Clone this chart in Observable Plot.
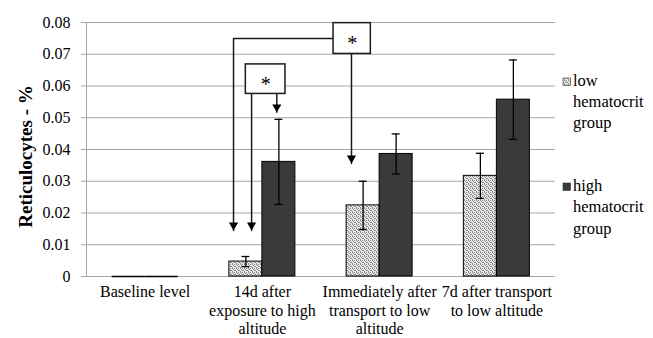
<!DOCTYPE html>
<html><head><meta charset="utf-8">
<script src="https://cdn.jsdelivr.net/npm/d3@7"></script>
<script src="https://cdn.jsdelivr.net/npm/@observablehq/plot@0.6"></script>
<style>
body{margin:0;background:#fff}
#chart{position:relative;width:653px;height:338px}
#chart svg, #chart svg text{font-family:"Liberation Serif","Times New Roman",serif !important}
</style>
</head><body><div id="chart"></div>
<script>
// ---- data ----
const categories = [
  "Baseline level",
  "14d after\nexposure to high\naltitude",
  "Immediately after\ntransport to low\naltitude",
  "7d after transport\nto low altitude"
];
const seriesNames = ["low\nhematocrit\ngroup", "high\nhematocrit\ngroup"];
const lowValues  = [0, 0.0047, 0.0224, 0.0317];
const lowErrors  = [0, 0.0016, 0.0076, 0.0071];
const highValues = [0, 0.0361, 0.0386, 0.0557];
const highErrors = [0, 0.0134, 0.0063, 0.0125];
const yTicks = [0, 0.01, 0.02, 0.03, 0.04, 0.05, 0.06, 0.07, 0.08];
const yTitle = "Reticulocytes - %";
// significance annotations (data units: x = category index, y = value)
const sigBoxes = [
  {x1: 1.607, x2: 1.925, y1: 0.0701, y2: 0.0798, label: "*"},
  {x1: 0.859, x2: 1.197, y1: 0.0575, y2: 0.0668, label: "*"}
];
const connectors = [
  {id: 0, x: 1.607, y: 0.0750}, {id: 0, x: 0.754, y: 0.0750}, {id: 0, x: 0.754, y: 0.0145},
  {id: 1, x: 1.760, y: 0.0701}, {id: 1, x: 1.760, y: 0.0356},
  {id: 2, x: 0.908, y: 0.0575}, {id: 2, x: 0.908, y: 0.0145},
  {id: 3, x: 1.123, y: 0.0575}, {id: 3, x: 1.123, y: 0.0517}
];
const arrowTips = [
  {x: 0.754, y: 0.0145}, {x: 1.760, y: 0.0356}, {x: 0.908, y: 0.0145}, {x: 1.123, y: 0.0517}
];

// ---- build ----
const FONT = "'Liberation Serif', 'Times New Roman', serif";
const BW = 0.2815;
const rows = [];
categories.forEach((c, i) => {
  rows.push({i, s: 0, v: lowValues[i], e: lowErrors[i], x1: i - BW, x2: i, c: i - BW / 2});
  rows.push({i, s: 1, v: highValues[i], e: highErrors[i], x1: i, x2: i + BW, c: i + BW / 2});
});
const low = rows.filter(d => d.s === 0);
const high = rows.filter(d => d.s === 1);
const errs = rows.filter(d => d.e > 0);
const zeroBars = rows.filter(d => d.v === 0);
const GRID = "#a6a6a6";
const DARK = "#3a3a3a";
const CAP = 0.034;
const fmt = d => d === 0 ? "0" : d.toFixed(2);

const svgEl = Plot.plot({
  width: 653, height: 338,
  marginLeft: 86, marginRight: 98, marginTop: 22, marginBottom: 62,
  style: {fontFamily: FONT, fontSize: "16px", color: "black", background: "white", overflow: "visible"},
  x: {domain: [-0.5, 3.5], axis: null},
  y: {domain: [0, 0.08], axis: null},
  marks: [
    Plot.gridY(yTicks, {stroke: GRID, strokeOpacity: 1, strokeWidth: 1}),
    Plot.ruleX([-0.5], {stroke: GRID, strokeWidth: 1}),
    Plot.axisY(yTicks, {tickFormat: fmt, tickSize: 5, tickPadding: 11, stroke: GRID, fill: "black", fontSize: 16, fontFamily: FONT}),
    Plot.rect(low, {x1: "x1", x2: "x2", y1: 0, y2: "v", fill: "url(#lowpat)", stroke: "black", strokeWidth: 1}),
    Plot.rect(high, {x1: "x1", x2: "x2", y1: 0, y2: "v", fill: DARK, stroke: "black", strokeWidth: 1}),
    Plot.ruleY(zeroBars, {y: "v", x1: "x1", x2: "x2", stroke: "black", strokeWidth: 1.3}),
    Plot.ruleX(errs, {x: "c", y1: d => d.v - d.e, y2: d => d.v + d.e, stroke: "black", strokeWidth: 1.3}),
    Plot.ruleY(errs, {y: d => d.v + d.e, x1: d => d.c - CAP, x2: d => d.c + CAP, stroke: "black", strokeWidth: 1.3}),
    Plot.ruleY(errs, {y: d => d.v - d.e, x1: d => d.c - CAP, x2: d => d.c + CAP, stroke: "black", strokeWidth: 1.3}),
    Plot.line(connectors, {x: "x", y: "y", z: "id", stroke: "#1a1a1a", strokeWidth: 1.5}),
    Plot.dot(arrowTips, {x: "x", y: "y", symbol: "triangle", r: 3.4, rotate: 180, fill: "black", stroke: "none", dy: -5.3}),
    Plot.rect(sigBoxes, {x1: "x1", x2: "x2", y1: "y1", y2: "y2", fill: "white", stroke: "#1a1a1a", strokeWidth: 1.5}),
    Plot.text(sigBoxes, {x: d => (d.x1 + d.x2) / 2, y: d => (d.y1 + d.y2) / 2, text: "label", fontSize: 20, dy: 5, fill: "black", fontFamily: FONT}),
    Plot.text(categories, {x: (d, i) => i, y: 0, text: d => d, lineAnchor: "top", lineHeight: 1.17, dy: 7, textAnchor: "middle", fill: "black", fontSize: 16, fontFamily: FONT}),
    Plot.text([yTitle], {frameAnchor: "left", text: d => d, rotate: -90, dx: -61, dy: 7, textAnchor: "middle", lineAnchor: "middle", fontWeight: "bold", fontSize: 19, fill: "black", fontFamily: FONT})
  ]
});

// pattern for low group
const svg = d3.select(svgEl);
const defs = svg.insert("defs", ":first-child");
const pat = defs.append("pattern").attr("id", "lowpat").attr("width", 4).attr("height", 4).attr("patternUnits", "userSpaceOnUse");
pat.append("rect").attr("width", 4).attr("height", 4).attr("fill", "#e8e8e8");
[[0,0],[2,0],[1,1],[3,2],[0,3],[2,2]].forEach(([x, y]) => pat.append("rect").attr("x", x).attr("y", y).attr("width", 1).attr("height", 1).attr("fill", "#8a8a8a"));

// legend
const lg = svg.append("g").attr("font-family", FONT).attr("font-size", 16.5).attr("fill", "black").attr("text-anchor", "start");
const legendItems = [
  {name: seriesNames[0], fill: "url(#lowpat)", sy: 78, base: [86, 107, 128]},
  {name: seriesNames[1], fill: DARK, sy: 183, base: [190.5, 212, 233.5]}
];
legendItems.forEach(it => {
  lg.append("rect").attr("x", 563).attr("y", it.sy).attr("width", 7.5).attr("height", 7.5).attr("fill", it.fill).attr("stroke", "#333").attr("stroke-width", 0.6);
  it.name.split("\n").forEach((t, k) => {
    lg.append("text").attr("x", 573).attr("y", it.base[k]).attr("text-anchor", "start").text(t);
  });
});

document.getElementById("chart").appendChild(svgEl);
</script>
</body></html>
